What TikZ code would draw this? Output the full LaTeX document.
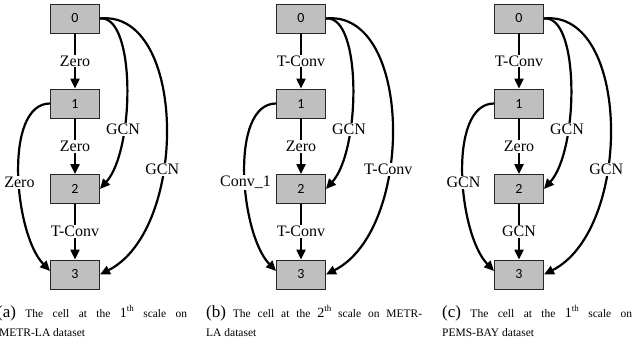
\documentclass[tikz,border=0pt]{standalone}
\usepackage{fontspec}
\setmainfont{Liberation Serif}
\newfontfamily\digitfont{Carlito}
\usetikzlibrary{arrows.meta}
\tikzset{
  cell/.style={draw=black!85, fill=black!25, line width=0.9pt, minimum width=49pt, minimum height=29pt, inner sep=0pt, font=\digitfont\fontsize{14}{14}\selectfont},
  flow/.style={line width=2.2pt, -{Triangle[length=10pt,width=9pt]}},
  lbl/.style={fill=white, inner sep=1pt, font=\fontsize{16}{16}\selectfont},
  capline/.style={anchor=base west, inner sep=0pt, font=\fontsize{11.5}{13}\selectfont}
}
\newcommand{\capnum}[1]{{\fontsize{17}{17}\selectfont(#1)}}
\newcommand{\scaleth}[1]{{\fontsize{14}{14}\selectfont #1}\raisebox{5.5pt}{\fontsize{9}{9}\selectfont th}}

\begin{document}
\begin{tikzpicture}[x=1pt,y=-1pt]
  \useasboundingbox (0,0) rectangle (632,343);

  % (a) METR-LA, scale 1
  \node[cell] (a0) at (75,18.5) {0};
  \node[cell] (a1) at (75,103.5) {1};
  \node[cell] (a2) at (75,189) {2};
  \node[cell] (a3) at (75,274.5) {3};
  \draw[flow] (a0) -- node[lbl] {Zero} (a1);
  \draw[flow] (a1) -- node[lbl] {Zero} (a2);
  \draw[flow] (a2) -- node[lbl] {T-Conv} (a3);
  \draw[flow] (a1.west) .. controls +(-47,0) and +(-36,-37) .. node[lbl,pos=0.54] {Zero} (a3.172);
  \draw[flow] (a0.east) .. controls +(36,-4) and +(35,-39) .. node[lbl,pos=0.68] {GCN} (a2.east);
  \draw[flow] (a0.east) .. controls +(87,-9) and +(89,-45) .. node[lbl,pos=0.62] {GCN} (a3.east);

  % (b) METR-LA, scale 2
  \node[cell] (b0) at (301,18.5) {0};
  \node[cell] (b1) at (301,103.5) {1};
  \node[cell] (b2) at (301,189) {2};
  \node[cell] (b3) at (301,274.5) {3};
  \draw[flow] (b0) -- node[lbl] {T-Conv} (b1);
  \draw[flow] (b1) -- node[lbl] {Zero} (b2);
  \draw[flow] (b2) -- node[lbl] {T-Conv} (b3);
  \draw[flow] (b1.west) .. controls +(-47,0) and +(-36,-37) .. node[lbl,pos=0.54] {Conv\_1} (b3.172);
  \draw[flow] (b0.east) .. controls +(36,-4) and +(35,-39) .. node[lbl,pos=0.68] {GCN} (b2.east);
  \draw[flow] (b0.east) .. controls +(87,-9) and +(89,-45) .. node[lbl,pos=0.62] {T-Conv} (b3.east);

  % (c) PEMS-BAY, scale 1
  \node[cell] (c0) at (519,18.5) {0};
  \node[cell] (c1) at (519,103.5) {1};
  \node[cell] (c2) at (519,189) {2};
  \node[cell] (c3) at (519,274.5) {3};
  \draw[flow] (c0) -- node[lbl] {T-Conv} (c1);
  \draw[flow] (c1) -- node[lbl] {Zero} (c2);
  \draw[flow] (c2) -- node[lbl] {GCN} (c3);
  \draw[flow] (c1.west) .. controls +(-47,0) and +(-36,-37) .. node[lbl,pos=0.54] {GCN} (c3.172);
  \draw[flow] (c0.east) .. controls +(36,-4) and +(35,-39) .. node[lbl,pos=0.68] {GCN} (c2.east);
  \draw[flow] (c0.east) .. controls +(87,-9) and +(89,-45) .. node[lbl,pos=0.62] {GCN} (c3.east);

  % sub-captions
  \node[capline] (capa1) at (-3,317) {\makebox[190pt][s]{\capnum{a} The cell at the \scaleth{1} scale on}};
  \node[capline] (capa2) at (-1,336) {METR-LA dataset};
  \node[capline] (capb1) at (206,317) {\makebox[216pt][s]{\capnum{b} The cell at the \scaleth{2} scale on METR-}};
  \node[capline] (capb2) at (206,336) {LA dataset};
  \node[capline] (capc1) at (442,317) {\makebox[190pt][s]{\capnum{c} The cell at the \scaleth{1} scale on}};
  \node[capline] (capc2) at (442,336) {PEMS-BAY dataset};
\end{tikzpicture}
\end{document}
